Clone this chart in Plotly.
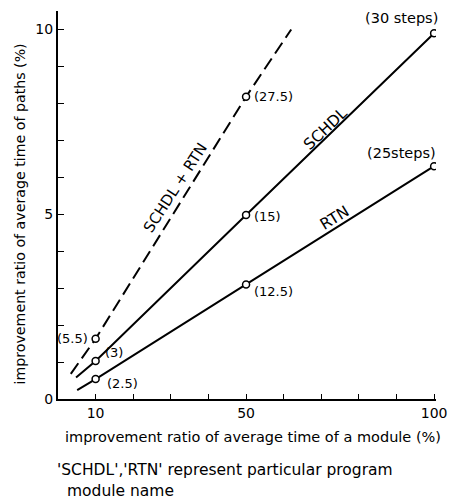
import plotly.graph_objects as go

# ---- data ----
module_ratio = [10, 50, 100]                 # x: improvement ratio of a module (%)
schdl_paths = [1.03, 4.98, 9.9]              # y for SCHDL
rtn_paths = [0.54, 3.10, 6.30]               # y for RTN
both_ratio = [10, 50]
both_paths = [1.63, 8.18]                    # y for SCHDL + RTN
schdl_steps = ["(3)", "(15)", "(30 steps)"]
rtn_steps = ["(2.5)", "(12.5)", "(25steps)"]
both_steps = ["(5.5)", "(27.5)"]

# drawn line extents (start/end of each curve)
schdl_line_x = [4.8, 10, 50, 100]
schdl_line_y = [0.58, 1.03, 4.98, 9.9]
rtn_line_x = [5.1, 10, 50, 100]
rtn_line_y = [0.24, 0.54, 3.10, 6.30]
both_line_x = [3.4, 10, 50, 62]
both_line_y = [0.68, 1.63, 8.18, 10.0]

x_ticks = [10, 20, 30, 40, 50, 60, 70, 80, 90, 100]
x_ticklabels = ["10", "", "", "", "50", "", "", "", "", "100"]
y_ticks = list(range(0, 11))
y_ticklabels = ["0", "", "", "", "", "5", "", "", "", "", "10"]

FONT = "DejaVu Sans"
fig = go.Figure()

line_style = dict(color="black", width=2)
fig.add_trace(go.Scatter(x=schdl_line_x, y=schdl_line_y, mode="lines", line=line_style))
fig.add_trace(go.Scatter(x=rtn_line_x, y=rtn_line_y, mode="lines", line=line_style))
fig.add_trace(go.Scatter(x=both_line_x, y=both_line_y, mode="lines",
                         line=dict(color="black", width=2, dash="13px,6px")))

marker = dict(symbol="circle", size=7, color="white", line=dict(color="black", width=1.5))
fig.add_trace(go.Scatter(x=module_ratio, y=schdl_paths, mode="markers", marker=marker))
fig.add_trace(go.Scatter(x=module_ratio, y=rtn_paths, mode="markers", marker=marker))
fig.add_trace(go.Scatter(x=both_ratio, y=both_paths, mode="markers", marker=marker))

ann = []
def lab(x, y, t, xa="left", ya="middle", ang=0, size=13, ref="data"):
    d = dict(x=x, y=y, text=t, showarrow=False, xanchor=xa, yanchor=ya,
             textangle=ang, font=dict(family=FONT, size=size, color="black"))
    if ref == "paper":
        d.update(xref="paper", yref="paper")
    ann.append(d)

# point labels
lab(8.6, both_paths[0], both_steps[0], xa="right")
lab(12.0, 1.27, schdl_steps[0])
lab(12.5, 0.43, rtn_steps[0])
lab(51.6, both_paths[1], both_steps[1])
lab(51.6, 4.93, schdl_steps[1])
lab(51.6, 2.90, rtn_steps[1])
lab(91.3, 10.31, schdl_steps[2], xa="center", size=14.5)
lab(91.3, 6.66, rtn_steps[2], xa="center", size=14.5)

# curve labels
lab(31.2, 5.71, "SCHDL + RTN", xa="center", ang=-57, size=15)
lab(71.1, 7.31, "SCHDL", xa="center", ang=-43.6, size=15.5)
lab(73.5, 4.91, "RTN", xa="center", ang=-31.8, size=15.5)

# axis titles & footnote
lab(0.517, -0.098, "improvement ratio of average time of a module (%)", xa="center",
    size=14.5, ref="paper")
lab(-0.1, 0.476, "improvement ratio of average time of paths (%)", xa="center",
    ang=-90, size=14.2, ref="paper")
lab(-0.008, -0.183, "'SCHDL','RTN' represent particular program", size=15.5, ref="paper")
lab(0.0185, -0.237, "module name", size=15.5, ref="paper")

# the page body adds an 8px margin, so the figure is 8px smaller than the window
fig.update_layout(
    width=450, height=493,
    margin=dict(l=50, r=22, t=3, b=102),
    paper_bgcolor="white", plot_bgcolor="white",
    showlegend=False,
    annotations=ann,
    font=dict(family=FONT, size=14, color="black"),
)
fig.update_xaxes(range=[0, 100.5], showline=True, linecolor="black", linewidth=2,
                 showgrid=False, zeroline=False,
                 tickmode="array", tickvals=x_ticks, ticktext=x_ticklabels,
                 ticks="inside", ticklen=5, tickcolor="black", tickwidth=1,
                 tickfont=dict(family=FONT, size=14))
fig.update_yaxes(range=[0, 10.5], showline=True, linecolor="black", linewidth=2,
                 showgrid=False, zeroline=False,
                 tickmode="array", tickvals=y_ticks, ticktext=y_ticklabels,
                 ticks="inside", ticklen=6, tickcolor="black", tickwidth=1,
                 tickfont=dict(family=FONT, size=14))

fig.write_html("out.html")
